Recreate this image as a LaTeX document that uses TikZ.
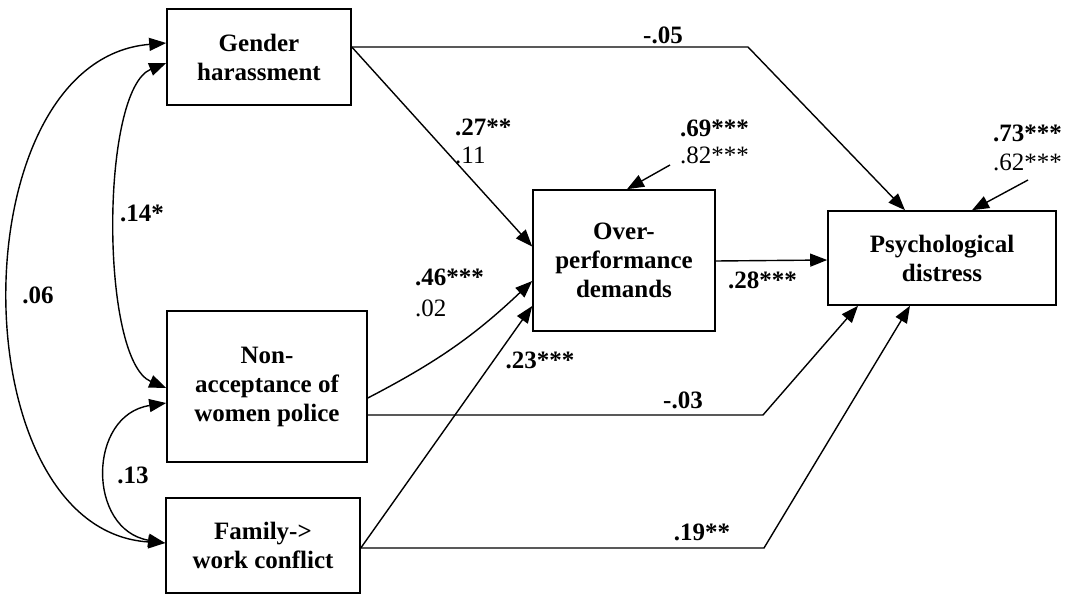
\documentclass[tikz,border=0pt]{standalone}
\usepackage{fontspec}
\setmainfont{Liberation Serif}
\usetikzlibrary{arrows.meta,calc}
\begin{document}
\begin{tikzpicture}[x=1pt,y=-1pt,
  box/.style={draw, line width=1.6pt, align=center, font=\fontsize{25}{29}\selectfont\bfseries, inner sep=0pt},
  arr/.style={line width=1.4pt, -{Triangle[length=17pt,width=13pt]}},
  dbl/.style={line width=1.4pt, {Triangle[length=17pt,width=13pt]}-{Triangle[length=17pt,width=13pt]}},
  lb/.style={font=\fontsize{25}{29}\selectfont\bfseries, inner sep=0pt},
  ln/.style={font=\fontsize{25}{29}\selectfont, inner sep=0pt}]
\useasboundingbox (0,0) rectangle (1072,594);
% boxes
\node[box, minimum width=184pt, minimum height=96pt] (GH) at (259,57) {Gender\\harassment};
\node[box, minimum width=200pt, minimum height=151pt] (NA) at (267,386.5) {Non-\\acceptance of\\women police};
\node[box, minimum width=194pt, minimum height=95pt] (FW) at (263,545.5) {Family-\textgreater\\work conflict};
\node[box, minimum width=182pt, minimum height=141pt] (OP) at (624,260.5) {Over-\\performance\\demands};
\node[box, minimum width=228pt, minimum height=94pt] (PD) at (942,258) {Psychological\\distress};
% bend points
\coordinate (b1) at (748,47);
\coordinate (b2) at (763,415);
\coordinate (b3) at (764,548);
\coordinate (e1) at (670,165);
\coordinate (e2) at (1028,180);
% paths
\draw[arr] ([yshift=10pt]GH.east) -- (b1) -- ([xshift=-37pt]PD.north);
\draw[arr] ([yshift=10pt]GH.east) -- ([yshift=14pt]OP.west);
\draw[arr] ([yshift=-11.5pt]NA.east) to[bend right=8] ([yshift=-20.5pt]OP.west);
\draw[arr] ([yshift=-2.5pt]FW.east) -- ([yshift=-45.5pt]OP.west);
\draw[arr] ([yshift=-28.5pt]NA.east) -- (b2) -- ([xshift=-84pt]PD.south);
\draw[arr] ([yshift=-2.5pt]FW.east) -- (b3) -- ([xshift=-32pt]PD.south);
\draw[arr] ([yshift=-0.5pt]OP.east) -- ([yshift=-2pt]PD.west);
\draw[arr] (e1) -- ([xshift=3pt]OP.north);
\draw[arr] (e2) -- ([xshift=30pt]PD.north);
% covariances
\draw[dbl] ([yshift=14pt]GH.west) .. controls (-42,60) and (-42,530) .. ([yshift=2.5pt]FW.west);
\draw[dbl] ([yshift=-6pt]GH.west) .. controls (100,90) and (100,360) .. ([yshift=-1.5pt]NA.west);
\draw[dbl] ([yshift=-16.5pt]NA.west) .. controls (87,415) and (87,530) .. ([yshift=2.5pt]FW.west);
% labels
\node[lb] (l1) at (663,35) {-.05};
\node[lb, anchor=west] (l2) at (455,127) {.27**};
\node[ln, anchor=west] (l3) at (455,155) {.11};
\node[lb, anchor=west] (l4) at (415,277) {.46***};
\node[ln, anchor=west] (l5) at (415,308) {.02};
\node[lb] (l6) at (540,360) {.23***};
\node[lb, anchor=west] (l7) at (680,128) {.69***};
\node[ln, anchor=west] (l8) at (680,155) {.82***};
\node[lb, anchor=west] (l9) at (993,133) {.73***};
\node[ln, anchor=west] (l10) at (993,162) {.62***};
\node[lb, anchor=west] (l11) at (728,280) {.28***};
\node[lb] (l12) at (683,400) {-.03};
\node[lb] (l13) at (702,532) {.19**};
\node[lb] (l14) at (142,213) {.14*};
\node[lb] (l15) at (38,295) {.06};
\node[lb] (l16) at (133,475) {.13};
\end{tikzpicture}
\end{document}
